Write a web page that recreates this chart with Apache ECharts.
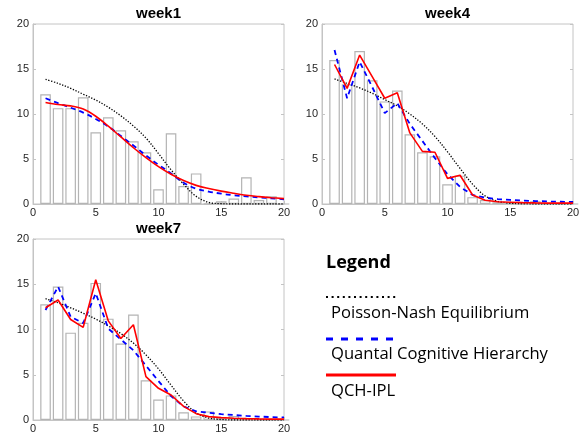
<!DOCTYPE html>
<html>
<head>
<meta charset="utf-8">
<script src="https://cdn.jsdelivr.net/npm/echarts@6/dist/echarts.min.js"></script>
<style>
  html, body { margin: 0; padding: 0; background: #fff; }
  #chart { width: 584px; height: 435px; }
</style>
</head>
<body>
<div id="chart"></div>
<script>
// Data
const positions = [1, 2, 3, 4, 5, 6, 7, 8, 9, 10, 11, 12, 13, 14, 15, 16, 17, 18, 19, 20];
const panelTitles = ['week1', 'week4', 'week7'];
const tickValues = [0, 5, 10, 15, 20];
const legendLabels = ['Poisson-Nash Equilibrium', 'Quantal Cognitive Hierarchy', 'QCH-IPL'];

// week1
const week1Bars = [12.2, 10.65, 10.65, 11.85, 7.96, 9.63, 8.2, 6.98, 5.74, 1.63, 7.85, 2.0, 3.4, 0.05, 0.3, 0.6, 2.96, 0.44, 0.85, 0];
const week1Nash = [13.85, 13.4, 12.85, 12.2, 11.55, 10.75, 9.8, 8.67, 7.33, 5.6, 3.8, 2.2, 0.85, 0.18, 0.03, 0, 0, 0, 0, 0];
const week1QCH = [11.75, 11.2, 10.7, 10.15, 9.45, 8.6, 7.55, 6.5, 5.4, 4.35, 3.4, 2.35, 1.7, 1.37, 1.15, 0.97, 0.85, 0.74, 0.63, 0.53];
const week1IPL = [11.28, 11.05, 10.9, 10.55, 9.75, 8.65, 7.45, 6.25, 5.15, 4.15, 3.3, 2.6, 2.07, 1.72, 1.43, 1.19, 0.97, 0.82, 0.7, 0.6];

// week4
const week4Bars = [16.0, 13.3, 17.0, 13.75, 11.4, 12.6, 7.75, 5.75, 5.3, 2.2, 3.15, 0.76, 0.45, 0.2, 0.15, 0.1, 0.3, 0.1, 0, 0];
const week4Nash = [13.9, 13.4, 12.9, 12.3, 11.6, 10.9, 10.0, 8.9, 7.5, 5.8, 3.95, 2.2, 0.9, 0.3, 0.08, 0.02, 0, 0, 0, 0];
const week4QCH = [17.1, 11.75, 15.8, 13.0, 10.1, 11.2, 8.9, 7.0, 5.1, 3.3, 1.9, 1.0, 0.7, 0.55, 0.45, 0.38, 0.33, 0.28, 0.25, 0.22];
const week4IPL = [15.5, 12.85, 16.55, 14.15, 11.75, 12.35, 7.9, 5.85, 5.75, 2.85, 3.2, 1.0, 0.42, 0.25, 0.2, 0.15, 0.12, 0.1, 0.1, 0.1];

// week7
const week7Bars = [12.78, 14.75, 9.65, 10.75, 15.15, 11.2, 8.45, 11.65, 4.4, 2.27, 2.72, 0.85, 0.4, 0.95, 0.2, 0.45, 0.2, 0.1, 0.1, 0];
const week7Nash = [13.4, 12.95, 12.4, 11.8, 11.15, 10.4, 9.55, 8.5, 7.2, 5.65, 3.85, 2.1, 0.8, 0.22, 0.05, 0, 0, 0, 0, 0];
const week7QCH = [12.15, 14.73, 11.4, 10.7, 14.0, 10.1, 8.9, 7.7, 6.0, 4.3, 2.64, 1.5, 0.95, 0.8, 0.65, 0.55, 0.45, 0.38, 0.32, 0.28];
const week7IPL = [12.4, 13.26, 11.1, 10.24, 15.5, 10.95, 9.0, 10.53, 4.79, 3.5, 2.76, 1.5, 0.7, 0.37, 0.26, 0.2, 0.15, 0.12, 0.1, 0.1];

// Layout
const grids = [
  { left: 33, top: 24, width: 251, height: 180 },
  { left: 322, top: 24, width: 251, height: 180 },
  { left: 33, top: 239, width: 251, height: 181 }
];
const panels = [
  { bars: week1Bars, nash: week1Nash, qch: week1QCH, ipl: week1IPL, smooth: true },
  { bars: week4Bars, nash: week4Nash, qch: week4QCH, ipl: week4IPL, smooth: false },
  { bars: week7Bars, nash: week7Nash, qch: week7QCH, ipl: week7IPL, smooth: false }
];

const COLORS = {
  box: '#c4c4c4',
  barEdge: '#b4b4b4',
  text: '#262626',
  nash: '#000000',
  qch: '#0000ff',
  ipl: '#ff0000'
};
const FONT = '"Liberation Sans", Arial, sans-serif';

const pairs = vals => positions.map((x, i) => [x, vals[i]]);

function axisBase(gridIndex) {
  return {
    gridIndex: gridIndex,
    type: 'value',
    min: tickValues[0],
    max: tickValues[tickValues.length - 1],
    interval: 5,
    axisLine: { show: true, lineStyle: { color: COLORS.box, width: 1 } },
    axisTick: { show: true, inside: true, length: 3, lineStyle: { color: COLORS.box } },
    splitLine: { show: false },
    axisLabel: { color: COLORS.text, fontSize: 11, fontFamily: FONT }
  };
}

const xAxes = [];
const yAxes = [];
const series = [];
const titles = [];

panels.forEach((p, i) => {
  const g = grids[i];
  xAxes.push(Object.assign(axisBase(i), {
    axisLabel: { color: COLORS.text, fontSize: 11, fontFamily: FONT, margin: 3 }
  }));
  yAxes.push(Object.assign(axisBase(i), {
    axisLabel: { color: COLORS.text, fontSize: 11, fontFamily: FONT, margin: 4 }
  }));
  // right-hand ticks (box style)
  yAxes.push(Object.assign(axisBase(i), {
    position: 'right',
    axisLine: { show: false },
    axisLabel: { show: false }
  }));

  const yIdx = i * 2;
  series.push({
    type: 'bar',
    xAxisIndex: i,
    yAxisIndex: yIdx,
    data: pairs(p.bars),
    barWidth: 10.6,
    itemStyle: { color: '#ffffff', borderColor: COLORS.barEdge, borderWidth: 1.2 },
    silent: true
  });
  series.push({
    type: 'line',
    xAxisIndex: i,
    yAxisIndex: yIdx,
    data: pairs(p.nash),
    smooth: 0.35,
    symbol: 'none',
    lineStyle: { color: COLORS.nash, width: 1.3, type: [1.3, 1.6] }
  });
  series.push({
    type: 'line',
    xAxisIndex: i,
    yAxisIndex: yIdx,
    data: pairs(p.qch),
    smooth: p.smooth ? 0.35 : false,
    symbol: 'none',
    lineStyle: { color: COLORS.qch, width: 1.8, type: [5, 4] }
  });
  series.push({
    type: 'line',
    xAxisIndex: i,
    yAxisIndex: yIdx,
    data: pairs(p.ipl),
    smooth: p.smooth ? 0.35 : false,
    symbol: 'none',
    lineStyle: { color: COLORS.ipl, width: 1.6 }
  });

  titles.push({
    text: panelTitles[i],
    left: g.left + g.width / 2,
    top: g.top - 18,
    textAlign: 'center',
    padding: 0,
    textStyle: { fontSize: 15, fontWeight: 'bold', color: '#000', fontFamily: FONT }
  });
});

// Legend drawn as a block of samples with captions below each
const LX = 326;
const legendFont = '"Open Sans", sans-serif';
const legendGraphic = [
  { type: 'text', left: LX, top: 254, style: { text: 'Legend', font: 'bold 18px "Open Sans", sans-serif', fill: '#000' } },
  { type: 'line', shape: { x1: LX, y1: 297, x2: LX + 70, y2: 297 }, style: { stroke: COLORS.nash, lineWidth: 2.2, lineDash: [2, 3.6] } },
  { type: 'text', left: LX + 5, top: 305, style: { text: legendLabels[0], font: '16.6px ' + legendFont, fill: '#000' } },
  { type: 'line', shape: { x1: LX, y1: 339, x2: LX + 70, y2: 339 }, style: { stroke: COLORS.qch, lineWidth: 2.8, lineDash: [7, 8] } },
  { type: 'text', left: LX + 5, top: 346, style: { text: legendLabels[1], font: '16.6px ' + legendFont, fill: '#000' } },
  { type: 'line', shape: { x1: LX, y1: 375, x2: LX + 70, y2: 375 }, style: { stroke: COLORS.ipl, lineWidth: 2.8 } },
  { type: 'text', left: LX + 5, top: 383, style: { text: legendLabels[2], font: '16.6px ' + legendFont, fill: '#000' } }
];

const chart = echarts.init(document.getElementById('chart'), null, { renderer: 'canvas' });
chart.setOption({
  backgroundColor: '#ffffff',
  animation: false,
  title: titles,
  grid: grids.map(g => Object.assign({ show: true, borderColor: COLORS.box, borderWidth: 1, backgroundColor: 'transparent' }, g)),
  xAxis: xAxes,
  yAxis: yAxes,
  series: series,
  graphic: legendGraphic
});
</script>
</body>
</html>
